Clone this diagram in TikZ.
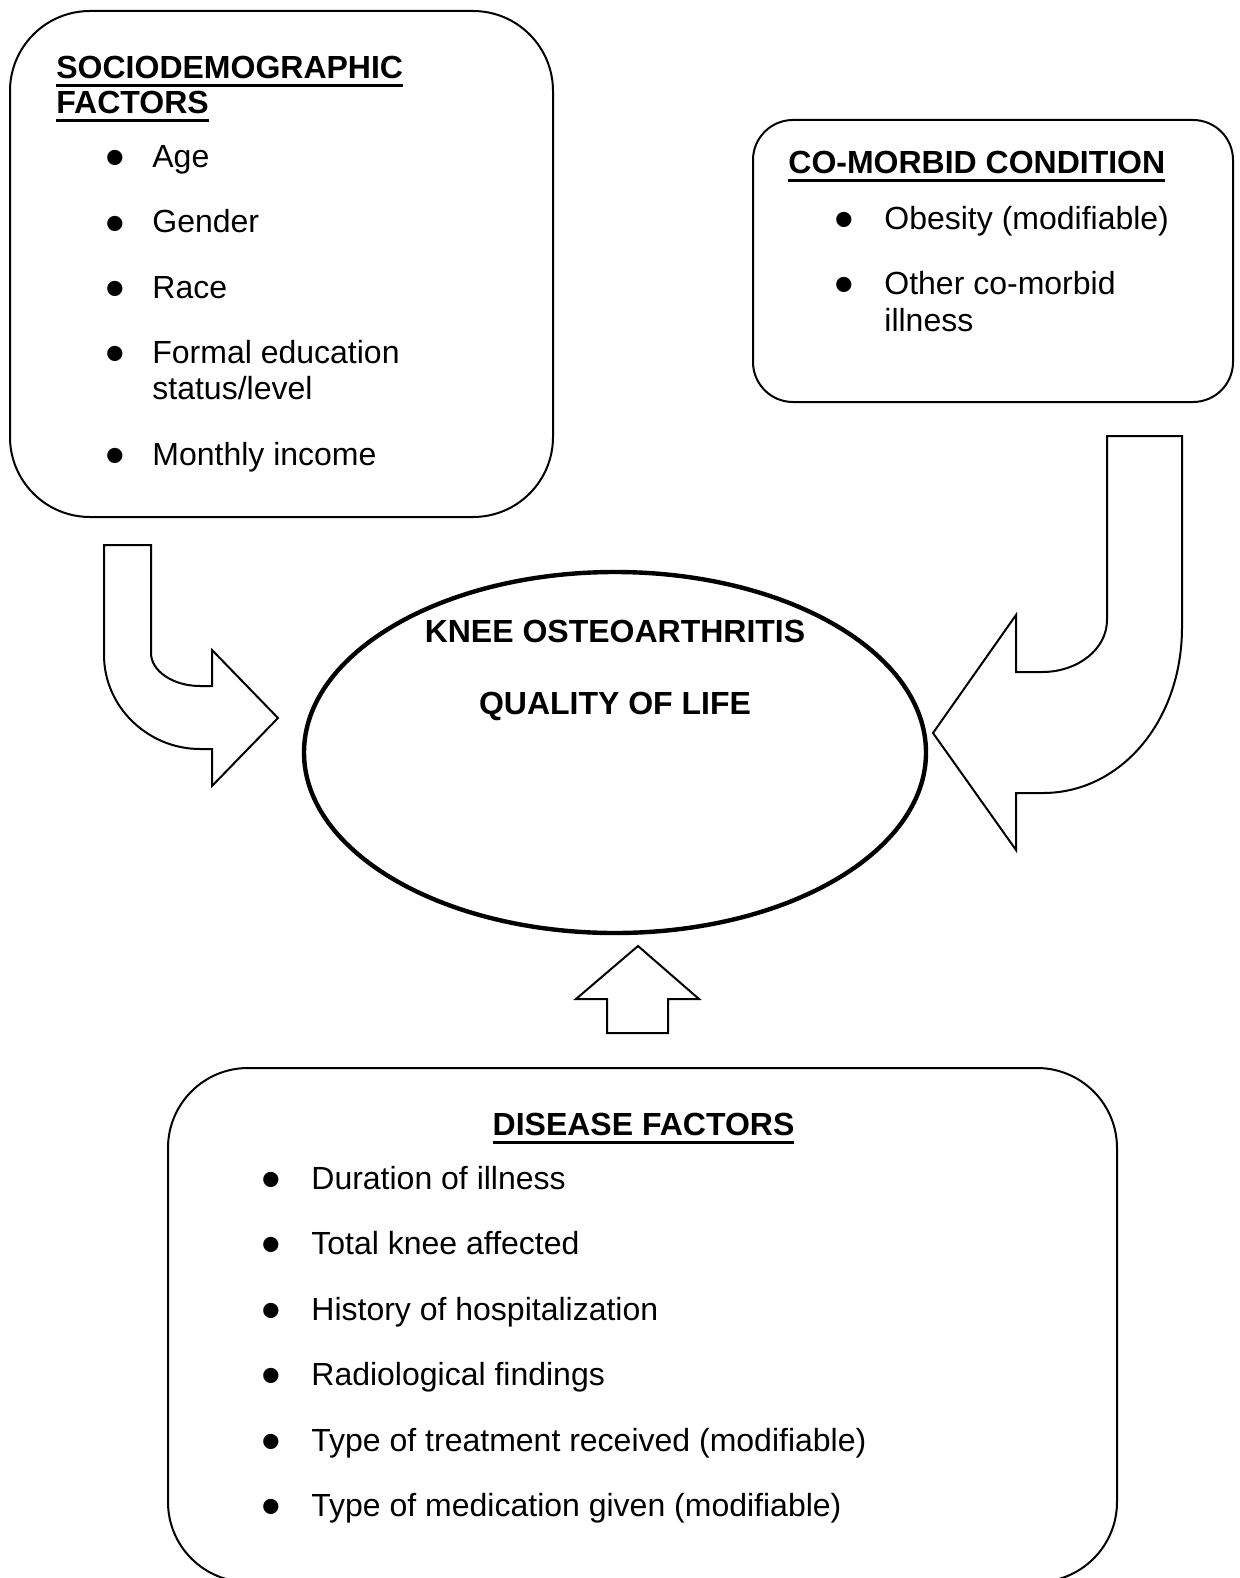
\documentclass[tikz,border=0pt]{standalone}
\usepackage{fontspec}
\setmainfont{Liberation Sans}
\usetikzlibrary{shapes.geometric}
\newcommand\ulx[1]{\setbox0=\hbox{#1}\rlap{\rule[-4pt]{\wd0}{1.5pt}}\box0}
\begin{document}
\begin{tikzpicture}[x=0.5pt,y=-0.5pt,
  box/.style={draw, line width=1pt, rounded corners=#1, inner sep=0},
  txt/.style={inner sep=0, anchor=base west, font=\fontsize{16pt}{18pt}\selectfont},
  ttl/.style={inner sep=0, anchor=base west, font=\fontsize{16pt}{18pt}\selectfont\bfseries},
  ctr/.style={inner sep=0, anchor=base, font=\fontsize{16pt}{18pt}\selectfont\bfseries},
  bul/.style={inner sep=0, anchor=center, yshift=2pt, font=\fontsize{28pt}{28pt}\selectfont},
  blk/.style={draw, line width=1pt, fill=white, line join=miter}]
\useasboundingbox (0,0) rectangle (1240,1578);

% boxes
\node[box=40pt, minimum width=271.5pt, minimum height=253pt] (socio) at (281.5,264) {};
\node[box=20pt, minimum width=240pt, minimum height=141pt] (comorb) at (993,261) {};
\node[draw, ellipse, line width=2.2pt, minimum width=311pt, minimum height=180.5pt, inner sep=0] (koa) at (615,752.5) {};
\node[box=40pt, minimum width=474.5pt, minimum height=257pt] (dis) at (642.5,1325) {};

% sociodemographic
\node[ttl] (s0a) at (56,79) {\ulx{SOCIODEMOGRAPHIC}};
\node[ttl] (s0b) at (56,114) {\ulx{FACTORS}};
\node[bul] (sb1) at (115,167.5) {•};
\node[txt] (s1) at (152,167.5) {Age};
\node[bul] (sb2) at (115,233) {•};
\node[txt] (s2) at (152,233) {Gender};
\node[bul] (sb3) at (115,298) {•};
\node[txt] (s3) at (152,298) {Race};
\node[bul] (sb4) at (115,363.5) {•};
\node[txt] (s4a) at (152,363.5) {Formal education};
\node[txt] (s4b) at (152,399.5) {status/level};
\node[bul] (sb5) at (115,465.5) {•};
\node[txt] (s5) at (152,465.5) {Monthly income};

% co-morbid
\node[ttl] (c0) at (788,174) {\ulx{CO-MORBID CONDITION}};
\node[bul] (cb1) at (844,229.5) {•};
\node[txt] (c1) at (884,229.5) {Obesity (modifiable)};
\node[bul] (cb2) at (844,294.5) {•};
\node[txt] (c2a) at (884,294.5) {Other co-morbid};
\node[txt] (c2b) at (884,331) {illness};

% ellipse text
\node[ctr] (k1) at (615,642) {KNEE OSTEOARTHRITIS};
\node[ctr] (k2) at (615,714.5) {QUALITY OF LIFE};

% disease factors
\node[ctr] (d0) at (643.5,1135.5) {\ulx{DISEASE FACTORS}};
\node[bul] (db1) at (271,1189) {•};
\node[txt] (d1) at (311,1189) {Duration of illness};
\node[bul] (db2) at (271,1254.5) {•};
\node[txt] (d2) at (311,1254.5) {Total knee affected};
\node[bul] (db3) at (271,1320) {•};
\node[txt] (d3) at (311,1320) {History of hospitalization};
\node[bul] (db4) at (271,1385.5) {•};
\node[txt] (d4) at (311,1385.5) {Radiological findings};
\node[bul] (db5) at (271,1451) {•};
\node[txt] (d5) at (311,1451) {Type of treatment received (modifiable)};
\node[bul] (db6) at (271,1516.5) {•};
\node[txt] (d6) at (311,1516.5) {Type of medication given (modifiable)};

% block arrows
\draw[blk] (104,545) -- (151,545) -- (151,653) .. controls (151,671) and (173,686) .. (200,686) -- (212,686) -- (212,650) -- (278,718) -- (212,786) -- (212,749) -- (200,749) .. controls (148,749) and (104,707) .. (104,655) -- cycle;
\draw[blk] (1182,436) -- (1107,436) -- (1107,620) .. controls (1107,649) and (1078,672) .. (1042,672) -- (1016,672) -- (1016,615) -- (933,733) -- (1016,850) -- (1016,793) -- (1043,793) .. controls (1120,793) and (1182,722) .. (1182,627) -- cycle;
\draw[blk] (638,946) -- (699,999) -- (668,999) -- (668,1033) -- (607,1033) -- (607,999) -- (576,999) -- cycle;
\end{tikzpicture}
\end{document}
